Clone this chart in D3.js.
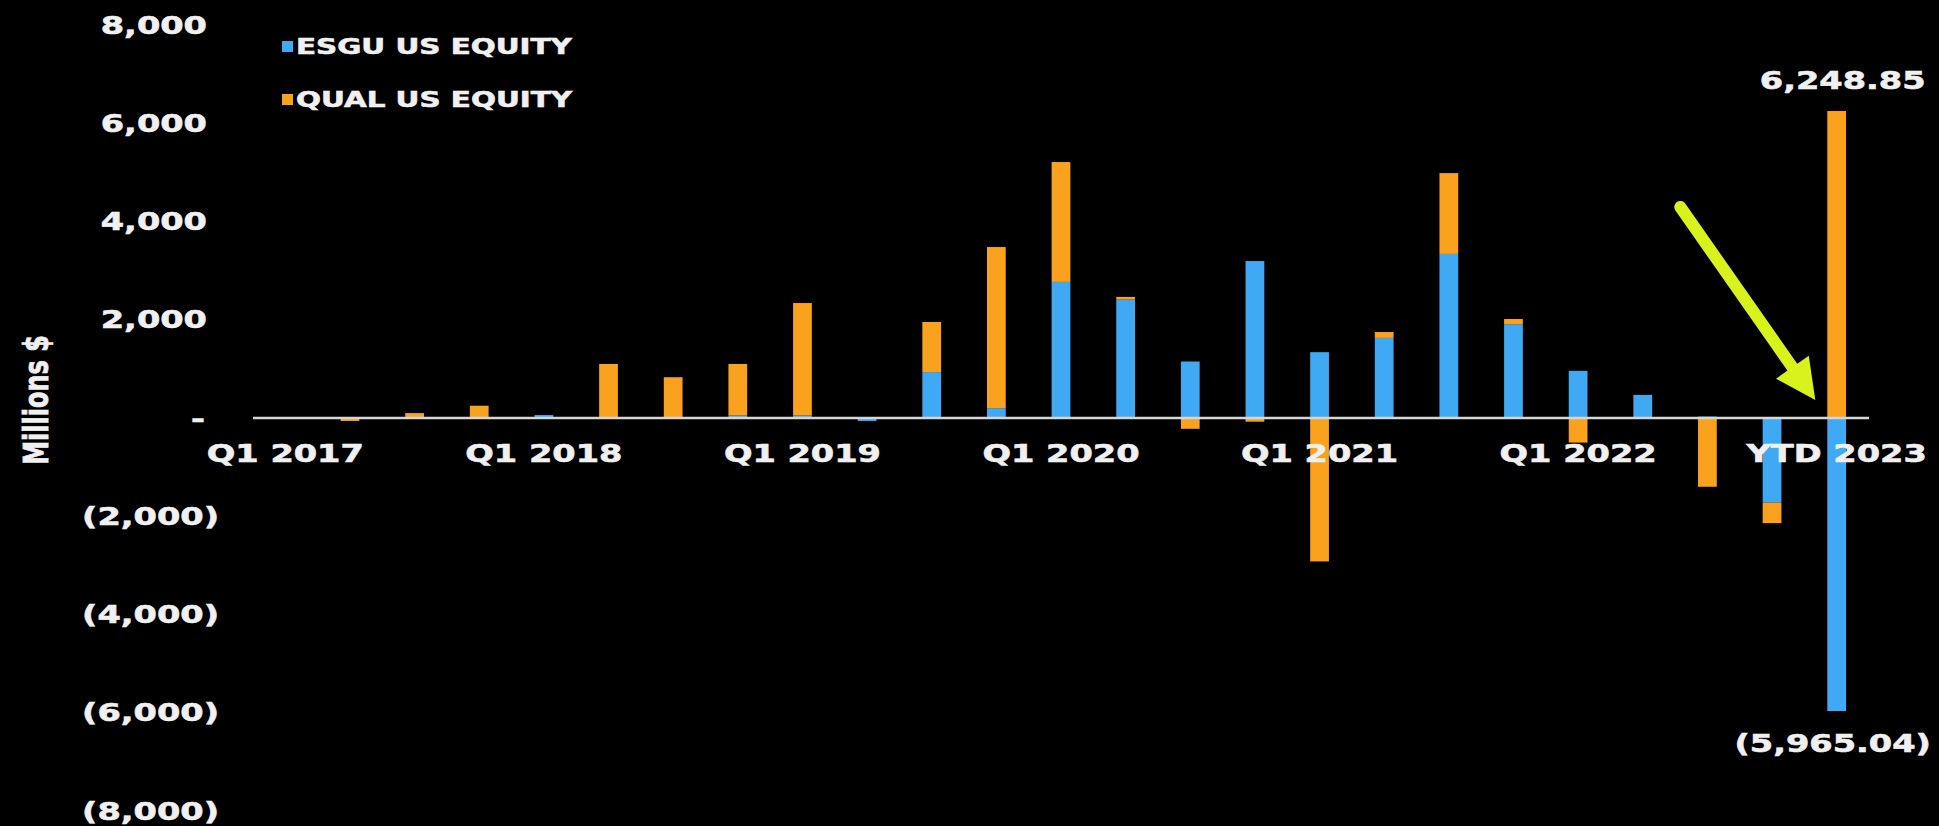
<!DOCTYPE html>
<html>
<head>
<meta charset="utf-8">
<script src="https://cdn.jsdelivr.net/npm/d3@7"></script>
<style>
  body { margin: 0; background: #000; }
  text { font-family: "DejaVu Sans", Verdana, sans-serif; font-weight: bold; fill: #f0f0f0; stroke: #f0f0f0; stroke-width: 0.6px; }
</style>
</head>
<body>
<div id="chart"></div>
<script>
// quarters, Q1 2017 .. Q4 2022, then year to date
var categories = ["Q1 2017", "Q2 2017", "Q3 2017", "Q4 2017",
    "Q1 2018", "Q2 2018", "Q3 2018", "Q4 2018",
    "Q1 2019", "Q2 2019", "Q3 2019", "Q4 2019",
    "Q1 2020", "Q2 2020", "Q3 2020", "Q4 2020",
    "Q1 2021", "Q2 2021", "Q3 2021", "Q4 2021",
    "Q1 2022", "Q2 2022", "Q3 2022", "Q4 2022",
    "YTD 2023"];
var seriesNames = ["ESGU US EQUITY", "QUAL US EQUITY"];
var esgu = [0, 0, 0, 0, 60, 0, 0, 50, 50, -60, 935, 200, 2770, 2410, 1150, 3195, 1340, 1630, 3340, 1910, 960, 470, 30, -1720, -5965.04];
var qual = [0, -60, 100, 250, 0, 1100, 830, 1050, 2290, 0, 1020, 3280, 2440, 55, -220, -75, -2920, 120, 1645, 105, -500, 0, -1400, -420, 6248.85];
var yTicks = [8000, 6000, 4000, 2000, 0, -2000, -4000, -6000, -8000];
var tickLabels = ["Q1 2017", "Q1 2018", "Q1 2019", "Q1 2020", "Q1 2021", "Q1 2022", "YTD 2023"];

(function () {
    var width = 1939,
        height = 826;
    var stretch = 1.4; // the picture is wide, type is stretched sideways

    var svg = d3.select("#chart").append("svg")
        .attr("width", width)
        .attr("height", height)
        .style("background", "#000");

    var x = d3.scaleBand().domain(categories)
        .range([253, 1869])
        .paddingInner(0.71)
        .paddingOuter(0.355);

    var y = d3.scaleLinear().domain([-8000, 8000]).range([811, 25]);

    var colors = d3.scaleOrdinal().domain(seriesNames).range(["#40a9f3", "#faa21d"]);

    var rows = categories.map(function (c, i) {
        return { cat: c, "ESGU US EQUITY": esgu[i], "QUAL US EQUITY": qual[i] };
    });

    var stacked = d3.stack().keys(seriesNames).offset(d3.stackOffsetDiverging)(rows);

    // bars
    svg.append("g").selectAll("g")
        .data(stacked)
        .enter().append("g")
        .attr("fill", function (d) { return colors(d.key); })
        .selectAll("rect")
        .data(function (d) { return d; })
        .enter().append("rect")
        .attr("x", function (d) { return x(d.data.cat); })
        .attr("width", x.bandwidth())
        .attr("y", function (d) { return y(Math.max(d[0], d[1])); })
        .attr("height", function (d) { return Math.abs(y(d[0]) - y(d[1])); });

    // zero line
    svg.append("line")
        .attr("x1", x.range()[0]).attr("x2", x.range()[1])
        .attr("y1", y(0)).attr("y2", y(0))
        .attr("stroke", "#d6d6d6")
        .attr("stroke-width", 2.5);

    // x axis, every fourth label
    var xAxis = svg.append("g")
        .attr("transform", "translate(0," + y(0) + ")")
        .call(d3.axisBottom(x).tickValues(tickLabels).tickSize(0));
    xAxis.select(".domain").remove();
    xAxis.selectAll("text")
        .attr("y", null).attr("dy", null)
        .attr("font-size", 24)
        .attr("transform", "translate(0,44) scale(" + stretch + ",1)");

    // y axis, accounting style labels
    var yAxis = svg.append("g")
        .attr("transform", "translate(207,0)")
        .call(d3.axisLeft(y).tickValues(yTicks).tickSize(0).tickFormat(function (d) {
            if (d === 0) return "-";
            var s = d3.format(",")(Math.abs(d));
            return d < 0 ? "(" + s + ")" : s;
        }));
    yAxis.select(".domain").remove();
    yAxis.selectAll("text")
        .attr("x", null).attr("dy", null)
        .attr("font-size", 24)
        .attr("transform", function (d) {
            var shift = d < 0 ? 12 : (d === 0 ? -2 : 0);
            return "translate(" + shift + ",8) scale(" + stretch + ",1)";
        });

    // axis title
    svg.append("text")
        .attr("text-anchor", "middle")
        .attr("font-size", 24)
        .attr("transform", "translate(36,400) rotate(-90) scale(1," + stretch + ")")
        .attr("dy", "0.35em")
        .text("Millions $");

    // legend
    var legend = svg.append("g").selectAll("g")
        .data(seriesNames)
        .enter().append("g")
        .attr("transform", function (d, i) { return "translate(282," + (41 + i * 53) + ")"; });
    legend.append("rect")
        .attr("width", 11).attr("height", 11)
        .attr("fill", function (d) { return colors(d); });
    legend.append("text")
        .attr("font-size", 21)
        .attr("transform", "translate(14,13) scale(" + stretch + ",1)")
        .text(function (d) { return d; });

    // data labels for the last bar
    var last = categories[categories.length - 1];
    var lx = x(last) + x.bandwidth() / 2;
    svg.append("text")
        .attr("text-anchor", "middle")
        .attr("font-size", 24)
        .attr("transform", "translate(" + (lx + 6) + "," + (y(qual[24]) - 22) + ") scale(" + stretch + ",1)")
        .text(d3.format(",.2f")(qual[24]));
    svg.append("text")
        .attr("text-anchor", "middle")
        .attr("font-size", 24)
        .attr("transform", "translate(" + (lx - 4) + "," + (y(esgu[24]) + 41) + ") scale(" + stretch + ",1)")
        .text("(" + d3.format(",.2f")(Math.abs(esgu[24])) + ")");

    // arrow pointing at the last bar
    var tip = [x(last) - 12, y(0) - 18];
    var dir = [0.573, 0.819];
    var perp = [-dir[1], dir[0]];
    var start = [tip[0] - 135, tip[1] - 193];
    var neck = [tip[0] - 40 * dir[0], tip[1] - 40 * dir[1]];
    svg.append("line")
        .attr("x1", start[0]).attr("y1", start[1])
        .attr("x2", neck[0] + 6 * dir[0]).attr("y2", neck[1] + 6 * dir[1])
        .attr("stroke", "#d8f31c")
        .attr("stroke-width", 12)
        .attr("stroke-linecap", "round");
    svg.append("polygon")
        .attr("fill", "#d8f31c")
        .attr("points", [
            tip,
            [neck[0] - 20 * perp[0], neck[1] - 20 * perp[1]],
            [neck[0] + 20 * perp[0], neck[1] + 20 * perp[1]]
        ].map(function (p) { return p.join(","); }).join(" "));
})();
</script>
</body>
</html>
